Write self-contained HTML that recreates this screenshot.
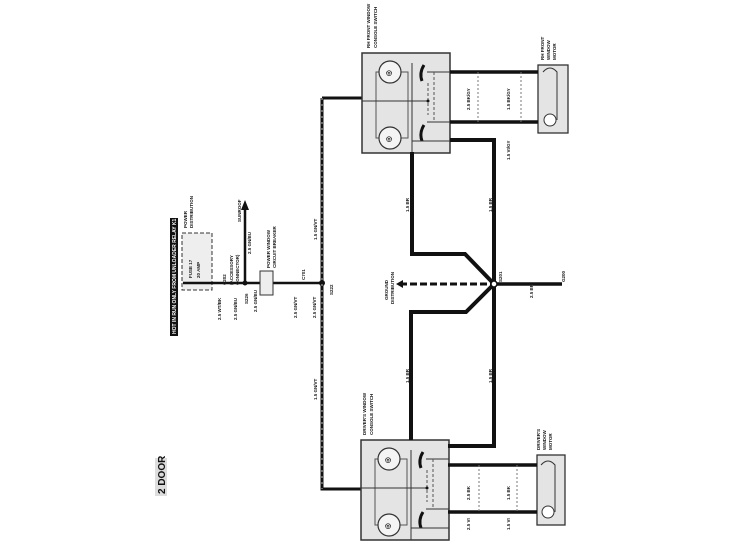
<!DOCTYPE html>
<html><head><meta charset="utf-8"><style>
html,body{margin:0;padding:0;background:#fff;width:730px;height:548px;overflow:hidden}
svg{display:block}
text{font-family:"Liberation Sans",sans-serif;font-weight:bold;fill:#222}
</style></head><body>
<svg width="730" height="548" viewBox="0 0 730 548" xmlns="http://www.w3.org/2000/svg">
<defs>
<g id="sw">
<rect x="0" y="0" width="88" height="100" fill="#e4e4e4" stroke="#333" stroke-width="1.5"/>
<rect x="14" y="19" width="32" height="66" fill="none" stroke="#555" stroke-width="1"/>
<circle cx="28" cy="19" r="11" fill="#f4f4f4" stroke="#333" stroke-width="1.2"/>
<circle cx="28" cy="85" r="11" fill="#f4f4f4" stroke="#333" stroke-width="1.2"/>
<text x="24" y="22" font-size="7">◎</text><text x="24" y="88" font-size="7">◎</text>
<path d="M0 48 H65" stroke="#333" stroke-width="1"/>
<path d="M50 10 V100" stroke="#333" stroke-width="1"/>
<path d="M62 12 Q57 20 60 28" stroke="#111" stroke-width="3" fill="none"/>
<path d="M62 72 Q57 80 60 88" stroke="#111" stroke-width="3" fill="none"/>
<path d="M65 19 H88 M65 69 H88 M50 88 H88" stroke="#333" stroke-width="1"/>
<path d="M72 19 V69" stroke="#555" stroke-width="1" stroke-dasharray="3,2"/>
<path d="M66 30 V62" stroke="#555" stroke-width="1" stroke-dasharray="3,2"/>
<circle cx="66" cy="48" r="1.5" fill="#111"/>
</g>
</defs>
<!-- title bar -->
<rect x="170" y="218" width="8" height="118" fill="#111"/>
<text transform="translate(176,334) rotate(-90)" font-size="5" style="fill:#fff">HOT IN RUN ONLY FROM UNLOADER RELAY K1</text>
<!-- 2 DOOR -->
<rect x="155" y="458" width="12" height="38" fill="#ddd"/>
<text transform="translate(165,494) rotate(-90)" font-size="10" style="fill:#111">2 DOOR</text>
<!-- fuse box -->
<rect x="182" y="233" width="30" height="57" fill="#eee" stroke="#333" stroke-width="1" stroke-dasharray="4,2"/>
<text transform="translate(192,278) rotate(-90)" font-size="4.5">FUSE 17</text>
<text transform="translate(200,278) rotate(-90)" font-size="4.5">20 AMP</text>
<text transform="translate(187,228) rotate(-90)" font-size="4.5">POWER</text>
<text transform="translate(193,228) rotate(-90)" font-size="4.5">DISTRIBUTION</text>
<!-- horizontal feed -->
<path d="M183 283 H322" stroke="#111" stroke-width="2.5"/>
<path d="M245 283 V208" stroke="#111" stroke-width="2.5"/>
<path d="M241 210 L245 200 L249 210 Z" fill="#111"/>
<circle cx="245" cy="283" r="2.5" fill="#111"/>
<rect x="260" y="271" width="13" height="24" fill="#eee" stroke="#333"/>
<text transform="translate(251,254) rotate(-90)" font-size="4.5">2.5 GN/BU</text>
<text transform="translate(241,222) rotate(-90)" font-size="4.5">SUNROOF</text>
<text transform="translate(270,268) rotate(-90)" font-size="4.5">POWER WINDOW</text>
<text transform="translate(276,268) rotate(-90)" font-size="4.5">CIRCUIT BREAKER</text>
<text transform="translate(226,285) rotate(-90)" font-size="4.5">C202</text>
<text transform="translate(233,285) rotate(-90)" font-size="4.5">(ACCESSORY</text>
<text transform="translate(239,285) rotate(-90)" font-size="4.5">CONNECTOR)</text>
<text transform="translate(221,320) rotate(-90)" font-size="4.5">2.5 WT/BK</text>
<text transform="translate(237,320) rotate(-90)" font-size="4.5">2.5 GN/BU</text>
<text transform="translate(248,304) rotate(-90)" font-size="4.5">S226</text>
<text transform="translate(257,312) rotate(-90)" font-size="4.5">2.5 GN/BU</text>
<text transform="translate(297,318) rotate(-90)" font-size="4.5">2.5 GN/VT</text>
<text transform="translate(316,318) rotate(-90)" font-size="4.5">2.5 GN/VT</text>
<text transform="translate(305,280) rotate(-90)" font-size="4.5">C701</text>
<text transform="translate(333,295) rotate(-90)" font-size="4.5">S222</text>
<circle cx="322" cy="283" r="3" fill="#111"/>
<!-- vertical power wire -->
<path d="M322 98 V489 H361 M322 98 H362" stroke="#111" stroke-width="3" fill="none"/>
<path d="M322 98 V489" stroke="#bbb" stroke-width="1" stroke-dasharray="2,4"/>
<text transform="translate(317,240) rotate(-90)" font-size="4.5">1.5 GN/VT</text>
<text transform="translate(317,400) rotate(-90)" font-size="4.5">1.5 GN/VT</text>
<!-- switches -->
<use href="#sw" x="362" y="53"/>
<use href="#sw" x="361" y="440"/>
<text transform="translate(370,48) rotate(-90)" font-size="4.5">RH FRONT WINDOW</text>
<text transform="translate(377,48) rotate(-90)" font-size="4.5">CONSOLE SWITCH</text>
<text transform="translate(366,435) rotate(-90)" font-size="4.5">DRIVER'S WINDOW</text>
<text transform="translate(373,435) rotate(-90)" font-size="4.5">CONSOLE SWITCH</text>
<!-- motors -->
<rect x="538" y="65" width="30" height="68" fill="#e4e4e4" stroke="#333" stroke-width="1.3"/>
<circle cx="550" cy="120" r="6" fill="#fff" stroke="#333"/>
<path d="M543 72 Q550 64 557 72 V120" stroke="#333" fill="none"/>
<rect x="537" y="455" width="28" height="70" fill="#e4e4e4" stroke="#333" stroke-width="1.3"/>
<circle cx="548" cy="512" r="6" fill="#fff" stroke="#333"/>
<path d="M541 465 Q548 457 555 465 V512" stroke="#333" fill="none"/>
<text transform="translate(544,60) rotate(-90)" font-size="4.5">RH FRONT</text>
<text transform="translate(550,60) rotate(-90)" font-size="4.5">WINDOW</text>
<text transform="translate(556,60) rotate(-90)" font-size="4.5">MOTOR</text>
<text transform="translate(540,450) rotate(-90)" font-size="4.5">DRIVER'S</text>
<text transform="translate(546,450) rotate(-90)" font-size="4.5">WINDOW</text>
<text transform="translate(552,450) rotate(-90)" font-size="4.5">MOTOR</text>
<!-- motor wires -->
<path d="M450 72 H538 M450 122 H538 M448 465 H537 M448 512 H537" stroke="#111" stroke-width="3.5"/>
<path d="M478 72 V122 M521 72 V122 M479 465 V512 M517 465 V512" stroke="#777" stroke-dasharray="2,2"/>
<text transform="translate(470,110) rotate(-90)" font-size="4.5">2.5 BK/GY</text>
<text transform="translate(510,110) rotate(-90)" font-size="4.5">1.5 BK/GY</text>
<text transform="translate(510,160) rotate(-90)" font-size="4.5">1.5 VI/GY</text>
<text transform="translate(470,500) rotate(-90)" font-size="4.5">2.5 BK</text>
<text transform="translate(510,500) rotate(-90)" font-size="4.5">1.5 BK</text>
<text transform="translate(470,530) rotate(-90)" font-size="4.5">2.5 VI</text>
<text transform="translate(510,530) rotate(-90)" font-size="4.5">1.5 VI</text>
<!-- ground wires -->
<path d="M450 140 H494 V446 H448" stroke="#111" stroke-width="4" fill="none"/>
<path d="M412 152 V254 H465 L494 284 L466 312 H411 V440" stroke="#111" stroke-width="4" fill="none"/>
<path d="M494 284 H562" stroke="#111" stroke-width="3.5"/>
<path d="M400 284 H494" stroke="#111" stroke-width="3" stroke-dasharray="7,3"/>
<path d="M396 284 L403 280 V288 Z" fill="#111"/>
<circle cx="494" cy="284" r="3" fill="#fff" stroke="#111" stroke-width="1.5"/>
<text transform="translate(388,300) rotate(-90)" font-size="4.5">GROUND</text>
<text transform="translate(394,304) rotate(-90)" font-size="4.5">DISTRIBUTION</text>
<text transform="translate(502,282) rotate(-90)" font-size="4.5">S201</text>
<text transform="translate(565,282) rotate(-90)" font-size="4.5">G200</text>
<text transform="translate(533,298) rotate(-90)" font-size="4.5">2.5 BR</text>
<text transform="translate(409,212) rotate(-90)" font-size="4.5">1.5 BR</text>
<text transform="translate(492,212) rotate(-90)" font-size="4.5">1.5 BR</text>
<text transform="translate(409,383) rotate(-90)" font-size="4.5">1.5 BR</text>
<text transform="translate(492,383) rotate(-90)" font-size="4.5">1.5 BR</text>
</svg>
</body></html>
